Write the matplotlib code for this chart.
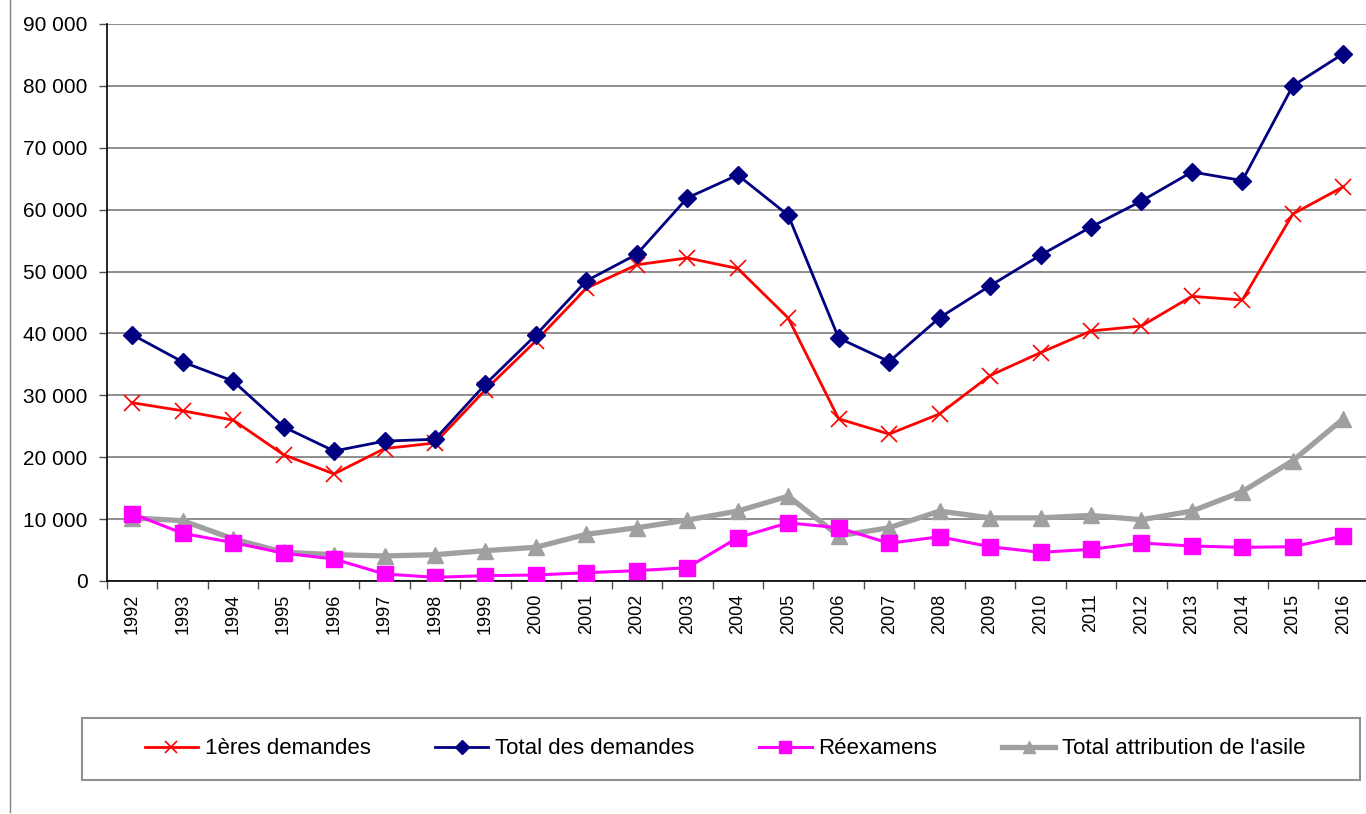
import matplotlib
matplotlib.use("Agg")
import matplotlib.pyplot as plt
from matplotlib.lines import Line2D
from matplotlib.patches import Rectangle
from matplotlib.ticker import FuncFormatter, FixedLocator

plt.rcParams['font.family'] = ['Liberation Sans', 'DejaVu Sans']

years = [str(y) for y in range(1992, 2017)]
premieres = [28800, 27500, 26000, 20400, 17300, 21400, 22300, 30900, 38800, 47300,
             51100, 52200, 50500, 42500, 26200, 23750, 27000, 33200, 36900, 40400,
             41200, 46000, 45400, 59300, 63700]
total_dem = [39800, 35400, 32300, 24900, 21000, 22600, 22900, 31800, 39750, 48500,
             52800, 61900, 65600, 59100, 39250, 35450, 42550, 47700, 52650, 57200,
             61400, 66100, 64700, 80000, 85200]
reexamens = [10900, 7700, 6200, 4500, 3550, 1130, 600, 860, 970, 1340,
             1670, 2150, 7000, 9400, 8600, 6100, 7150, 5540, 4630, 5120,
             6140, 5650, 5440, 5540, 7270]
attribution = [10200, 9750, 6800, 4650, 4250, 4050, 4250, 4900, 5450, 7550,
               8600, 9850, 11300, 13700, 7300, 8600, 11300, 10200, 10200, 10600,
               9900, 11300, 14450, 19450, 26200]

labels = ["1ères demandes", "Total des demandes", "Réexamens", "Total attribution de l'asile"]

W, H = 1366, 814
fig = plt.figure(figsize=(W / 100, H / 100), dpi=100)
ax = fig.add_axes([107 / W, 233 / H, 1261.5 / W, 557 / H])

x = list(range(len(years)))
h1, = ax.plot(x, premieres, color='#ff0000', lw=2.0, marker='x', ms=11, mew=1.2,
              label=labels[0], zorder=4)
h2, = ax.plot(x, total_dem, color='#000080', lw=2.0, marker='D', ms=9,
              label=labels[1], zorder=5)
h3, = ax.plot(x, reexamens, color='#ff00ff', lw=2.2, marker='s', ms=11,
              label=labels[2], zorder=3)
h4, = ax.plot(x, attribution, color='#a0a0a0', lw=3.8, marker='^', ms=11,
              label=labels[3], zorder=2)

ax.set_xlim(-0.5, len(years) - 0.5)
ax.set_ylim(0, 90000)
ax.set_yticks(range(0, 90001, 10000))
ax.yaxis.set_major_formatter(FuncFormatter(lambda v, p: f"{int(v):,}".replace(",", " ")))
ax.yaxis.grid(True, color='#707070', lw=1.1)
ax.set_axisbelow(True)
ax.tick_params(axis='y', length=6, width=1, color='#505050', pad=8, labelsize=15)

ax.set_xticks(x)
ax.set_xticklabels(years, rotation=90, fontsize=13)
ax.xaxis.set_minor_locator(FixedLocator([i - 0.5 for i in range(len(years) + 1)]))
ax.tick_params(axis='x', which='major', length=0, pad=9)
ax.tick_params(axis='x', which='minor', length=6, width=1, color='#505050')

for s in ['top', 'right']:
    ax.spines[s].set_visible(False)
ax.spines['left'].set_color('black')
ax.spines['bottom'].set_color('black')
ax.spines['left'].set_linewidth(1.2)
ax.spines['bottom'].set_linewidth(1.2)

# legend frame
fig.patches.append(Rectangle((82 / W, 1 - 780 / H), (1360 - 82) / W, 62 / H,
                             transform=fig.transFigure, fill=False,
                             edgecolor='#909090', lw=1.5))
fig.legend(handles=[h1, h2, h3, h4], loc='center', bbox_to_anchor=(725 / W, 1 - 749 / H),
           ncol=4, frameon=False, fontsize=16, handlelength=2.4, handletextpad=0.3,
           columnspacing=2.9, markerscale=0.8)

# left border line
fig.add_artist(Line2D([10 / W, 10 / W], [1 - 812 / H, 1.0], transform=fig.transFigure,
                      color='#808080', lw=1))

fig.savefig("out.png", dpi=100)
